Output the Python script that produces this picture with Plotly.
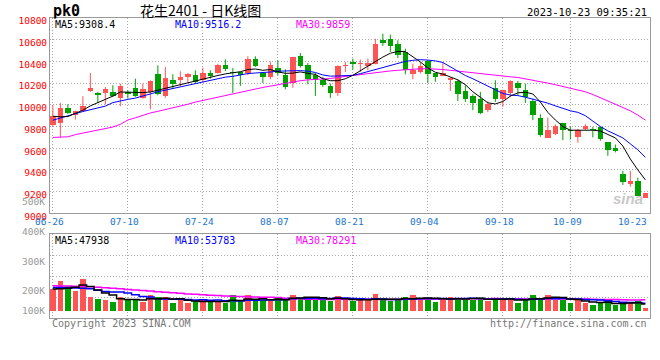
import plotly.graph_objects as go

# ---------------- data ----------------
dates = [
    "2023-06-26", "2023-06-27", "2023-06-28", "2023-06-29", "2023-06-30",
    "2023-07-03", "2023-07-04", "2023-07-05", "2023-07-06", "2023-07-07",
    "2023-07-10", "2023-07-11", "2023-07-12", "2023-07-13", "2023-07-14",
    "2023-07-17", "2023-07-18", "2023-07-19", "2023-07-20", "2023-07-21",
    "2023-07-24", "2023-07-25", "2023-07-26", "2023-07-27", "2023-07-28",
    "2023-07-31", "2023-08-01", "2023-08-02", "2023-08-03", "2023-08-04",
    "2023-08-07", "2023-08-08", "2023-08-09", "2023-08-10", "2023-08-11",
    "2023-08-14", "2023-08-15", "2023-08-16", "2023-08-17", "2023-08-18",
    "2023-08-21", "2023-08-22", "2023-08-23", "2023-08-24", "2023-08-25",
    "2023-08-28", "2023-08-29", "2023-08-30", "2023-08-31", "2023-09-01",
    "2023-09-04", "2023-09-05", "2023-09-06", "2023-09-07", "2023-09-08",
    "2023-09-11", "2023-09-12", "2023-09-13", "2023-09-14", "2023-09-15",
    "2023-09-18", "2023-09-19", "2023-09-20", "2023-09-21", "2023-09-22",
    "2023-09-25", "2023-09-26", "2023-09-27", "2023-09-28", "2023-10-09",
    "2023-10-10", "2023-10-11", "2023-10-12", "2023-10-13", "2023-10-16",
    "2023-10-17", "2023-10-18", "2023-10-19", "2023-10-20", "2023-10-23",
]

open_ = [
    9812, 9834, 9975, 9904, 9941, 10125, 10110, 10110, 10116, 10064,
    10119, 10156, 10064, 10119, 10284, 10082, 10226, 10226, 10260, 10272,
    10226, 10293, 10293, 10367, 10303, 10303, 10293, 10425, 10296, 10257,
    10343, 10278, 10201, 10447, 10364, 10278, 10232, 10174, 10110, 10355,
    10395, 10379, 10358, 10379, 10594, 10609, 10557, 10486, 10284, 10303,
    10401, 10293, 10269, 10226, 10217, 10125, 10079, 10051, 9950, 10156,
    10051, 10113, 10201, 10134, 10033, 9874, 9696, 9729, 9834, 9772,
    9705, 9778, 9775, 9791, 9653, 9604, 9362, 9270, 9297, 9144,
]
high = [
    9996, 10018, 10005, 9945, 10079, 10293, 10119, 10165, 10180, 10195,
    10134, 10241, 10195, 10225, 10364, 10349, 10281, 10309, 10293, 10318,
    10342, 10318, 10379, 10419, 10339, 10303, 10447, 10447, 10296, 10398,
    10410, 10327, 10437, 10477, 10385, 10293, 10257, 10195, 10364, 10395,
    10425, 10416, 10425, 10609, 10655, 10646, 10594, 10517, 10379, 10395,
    10410, 10293, 10385, 10251, 10232, 10180, 10097, 10119, 10033, 10226,
    10140, 10226, 10220, 10195, 10057, 9913, 9883, 9821, 9834, 9797,
    9778, 9821, 9797, 9791, 9653, 9634, 9392, 9392, 9328, 9184,
]
low = [
    9805, 9699, 9915, 9864, 9935, 10119, 10018, 10005, 10073, 9987,
    10057, 10073, 10057, 9959, 10088, 10064, 10150, 10171, 10205, 10201,
    10205, 10241, 10287, 10312, 10110, 10174, 10272, 10349, 10201, 10235,
    10272, 10143, 10156, 10343, 10189, 10082, 10165, 10064, 10082, 10303,
    10324, 10303, 10318, 10373, 10542, 10487, 10431, 10281, 10235, 10287,
    10201, 10211, 10263, 10128, 10033, 10027, 9950, 9913, 9932, 10027,
    9981, 10073, 10088, 10018, 9858, 9705, 9696, 9720, 9674, 9680,
    9650, 9766, 9699, 9668, 9530, 9561, 9261, 9245, 9162, 9144,
]
close = [
    9895, 9975, 9920, 9941, 9993, 10152, 10094, 10143, 10085, 10171,
    10103, 10082, 10143, 10220, 10103, 10247, 10192, 10254, 10284, 10211,
    10293, 10266, 10367, 10327, 10293, 10272, 10419, 10358, 10257, 10364,
    10293, 10165, 10437, 10355, 10235, 10226, 10186, 10110, 10355, 10367,
    10376, 10388, 10385, 10557, 10569, 10542, 10456, 10324, 10324, 10355,
    10281, 10257, 10293, 10251, 10103, 10051, 10018, 9926, 10005, 10051,
    10134, 10217, 10159, 10073, 9904, 9720, 9772, 9803, 9766, 9757,
    9772, 9803, 9766, 9684, 9582, 9576, 9291, 9300, 9162, 9184,
]

ma5 = [
    9895, 9889, 9892, 9920, 9950, 9990, 10018, 10050, 10080, 10118,
    10114, 10113, 10113, 10118, 10135, 10155, 10170, 10190, 10205, 10225,
    10238, 10255, 10270, 10285, 10295, 10305, 10325, 10330, 10318, 10325,
    10305, 10290, 10292, 10303, 10290, 10280, 10240, 10222, 10222, 10240,
    10272, 10315, 10350, 10395, 10440, 10475, 10492, 10490, 10445, 10395,
    10340, 10300, 10283, 10260, 10230, 10185, 10120, 10070, 10018, 10008,
    10030, 10080, 10110, 10116, 10100, 10025, 9930, 9860, 9800, 9766,
    9766, 9766, 9766, 9758, 9728, 9695, 9620, 9500, 9400, 9308.4,
]
ma10 = [
    9858, 9880, 9900, 9918, 9938, 9955, 9970, 9988, 10020, 10038,
    10050, 10062, 10078, 10100, 10120, 10135, 10145, 10160, 10175, 10190,
    10205, 10225, 10240, 10255, 10262, 10275, 10288, 10293, 10296, 10302,
    10310, 10312, 10314, 10315, 10310, 10298, 10275, 10264, 10266, 10270,
    10272, 10287, 10305, 10326, 10345, 10364, 10380, 10400, 10410, 10416,
    10412, 10405, 10390, 10350, 10310, 10270, 10240, 10205, 10170, 10135,
    10105, 10090, 10085, 10070, 10052, 10038, 10015, 9990, 9965, 9945,
    9930, 9900, 9850, 9800, 9760, 9730, 9695, 9640, 9585, 9516.2,
]
ma30 = [
    9699, 9699, 9705, 9725, 9738, 9750, 9765, 9780, 9795, 9820,
    9860, 9880, 9905, 9925, 9940, 9955, 9968, 9985, 10005, 10025,
    10040, 10060, 10075, 10090, 10105, 10118, 10132, 10145, 10160, 10172,
    10185, 10198, 10212, 10222, 10230, 10232, 10235, 10242, 10253, 10262,
    10272, 10280, 10288, 10296, 10304, 10312, 10318, 10324, 10328, 10332,
    10333, 10332, 10325, 10318, 10310, 10300, 10295, 10285, 10278, 10270,
    10265, 10258, 10252, 10240, 10228, 10218, 10200, 10185, 10168, 10150,
    10135, 10120, 10095, 10065, 10040, 10010, 9980, 9945, 9905, 9859,
]

volume = [
    154700, 214200, 178500, 142800, 228500, 100000, 85700, 78500, 64300, 95200,
    73800, 85700, 61900, 109500, 95200, 95200, 57100, 73800, 52400, 66600,
    78500, 61900, 71400, 52400, 109500, 71400, 109500, 66600, 73800, 66600,
    95200, 92800, 114200, 85700, 92800, 95200, 78500, 71400, 107100, 73800,
    66600, 73800, 73800, 121400, 73800, 69000, 73800, 100000, 114200, 83300,
    83300, 64300, 85700, 100000, 92800, 78500, 78500, 92800, 66600, 92800,
    78500, 85700, 57100, 78500, 114200, 92800, 114200, 78500, 73800, 57100,
    78500, 57100, 42800, 57100, 66600, 38100, 57100, 57100, 66600, 21400,
]
vol_ma5 = [
    154700, 156000, 160000, 168000, 183700, 172800, 147100, 127100, 111400, 84700,
    79500, 79500, 76200, 85200, 85200, 89500, 83800, 86200, 74700, 69000,
    65700, 66600, 66200, 66200, 74700, 73300, 82800, 81900, 86200, 77600,
    82300, 79000, 88500, 90900, 96100, 96100, 93300, 84700, 89000, 85200,
    79500, 78500, 79000, 81900, 81900, 82400, 82400, 87600, 86200, 88100,
    90900, 89000, 86200, 83300, 85200, 84300, 87100, 88500, 81800, 81800,
    81800, 83300, 76100, 78500, 82800, 85700, 91400, 95600, 94700, 83300,
    80400, 69000, 61900, 58500, 60400, 52300, 52300, 55200, 57100, 47938,
]
vol_ma10 = [
    166000, 165000, 164000, 162000, 160000, 157000, 146000, 138000, 134000, 134200,
    126200, 113300, 101600, 98300, 85000, 84500, 81600, 81200, 80000, 77100,
    77600, 75200, 76200, 70500, 71900, 69500, 74700, 74000, 76200, 76200,
    77800, 80900, 85200, 88500, 86900, 89200, 86100, 86600, 90000, 90700,
    87800, 85900, 81900, 85400, 83500, 80900, 80500, 83300, 84000, 85000,
    86600, 85700, 86900, 84700, 86600, 87600, 88100, 87300, 82600, 83500,
    83100, 85200, 82300, 80200, 82300, 83800, 87300, 85900, 86600, 83000,
    83000, 80200, 78800, 76600, 71900, 66400, 60700, 58500, 57800, 53783,
]
vol_ma30 = [
    178000, 177000, 176000, 175000, 174000, 171000, 168000, 164000, 160000, 156000,
    152000, 148000, 144000, 140000, 136000, 132000, 128000, 124000, 120000, 117000,
    114000, 111000, 108000, 105000, 103000, 101000, 99500, 98000, 97000, 95800,
    93900, 89800, 87700, 85800, 81200, 81100, 80800, 80600, 82000, 81300,
    81100, 80700, 81100, 81500, 80800, 79900, 80400, 81300, 83400, 83900,
    84100, 84200, 84700, 86200, 85700, 85900, 84900, 85800, 85500, 86400,
    85800, 85600, 83700, 83500, 84200, 84100, 85300, 85500, 84400, 83800,
    84200, 83700, 82700, 80500, 80300, 79200, 78700, 77300, 75700, 78291,
]

label_dates = ["06-26", "07-10", "07-24", "08-07", "08-21", "09-04", "09-18", "10-09", "10-23"]
price_ticks = [9000, 9200, 9400, 9600, 9800, 10000, 10200, 10400, 10600, 10800]
vol_label_text = ["500K", "400K", "300K", "200K", "100K"]

# ---------------- style / geometry ----------------
W, H = 660, 360
L, R, T, B = 50, 650, 18, 318           # plot area in pixels
MAIN_BOTTOM, VOL_TOP = 213.3, 234
RED, GREEN = "#FF5454", "#00A000"
GRID = "#A8A8A8"
AXIS = "#9A9A9A"
MONO = "DejaVu Sans Mono"
XLAB = "#1A74D0"
SMALL = 9.5


def px(x):
    return (x - L) / (R - L)


def py(y):
    return (B - y) / (B - T)


idx = list(range(len(dates)))
md = [d[5:] for d in dates]
up = [i for i in idx if close[i] >= open_[i]]
dn = [i for i in idx if close[i] < open_[i]]

fig = go.Figure()


def wick_xy(ids):
    xs, ys = [], []
    for i in ids:
        xs += [i, i, None]
        ys += [low[i], high[i], None]
    return xs, ys


for ids, col in ((up, RED), (dn, GREEN)):
    xs, ys = wick_xy(ids)
    fig.add_trace(go.Scatter(x=xs, y=ys, mode="lines", line=dict(color=col, width=1),
                             xaxis="x", yaxis="y", hoverinfo="skip"))
    fig.add_trace(go.Bar(x=ids, y=[abs(close[i] - open_[i]) for i in ids],
                         base=[min(open_[i], close[i]) for i in ids],
                         width=0.76, marker=dict(color=col, line=dict(width=0)),
                         xaxis="x", yaxis="y"))

for ser, col in ((ma30, "#FF00FF"), (ma10, "#0000FF"), (ma5, "#000000")):
    fig.add_trace(go.Scatter(x=idx, y=ser, mode="lines", line=dict(color=col, width=1),
                             xaxis="x", yaxis="y"))

vcol = [RED if close[i] >= open_[i] else GREEN for i in idx]
fig.add_trace(go.Bar(x=idx, y=volume, width=0.76, marker=dict(color=vcol, line=dict(width=0)),
                     xaxis="x2", yaxis="y2"))
for ser, col in ((vol_ma30, "#FF00FF"), (vol_ma10, "#0000FF"), (vol_ma5, "#000000")):
    fig.add_trace(go.Scatter(x=idx, y=ser, mode="lines", line=dict(color=col, width=1.5, shape="hvh"),
                             xaxis="x2", yaxis="y2"))

xr = [(L - 52.85) / 7.5, (R - 52.85) / 7.5]
tickpos = [md.index(d) for d in label_dates]

common_x = dict(range=xr, showgrid=True, gridcolor=GRID, griddash="1px,2px", gridwidth=1,
                showline=True, linecolor=AXIS, linewidth=1, mirror=True, ticks="",
                zeroline=False, tickvals=tickpos[:-1], showticklabels=False, fixedrange=True)

fig.update_layout(
    width=W, height=H, margin=dict(l=L, r=W - R, t=T, b=H - B),
    paper_bgcolor="white", plot_bgcolor="white", showlegend=False,
    barmode="overlay", bargap=0, hovermode=False,
    xaxis=dict(common_x, anchor="y"),
    xaxis2=dict(common_x, anchor="y2", matches="x"),
    yaxis=dict(domain=[py(MAIN_BOTTOM), 1], range=[9000, 10800], tickvals=price_ticks,
               tickformat="d", showgrid=True, gridcolor=GRID, griddash="1px,2px", zeroline=False,
               showline=True, linecolor=AXIS, mirror=True, ticks="", fixedrange=True,
               tickfont=dict(family=MONO, size=SMALL, color="#FF0000"), ticklabelshift=3),
    yaxis2=dict(domain=[0, py(VOL_TOP)], range=[-52000, 547600], tick0=-52000, dtick=149900,
                showgrid=True, gridcolor=GRID, griddash="1px,2px", zeroline=False, fixedrange=True,
                showline=True, linecolor=AXIS, mirror=True, ticks="", showticklabels=False),
)

ann = []


def text(x, y, s, color="#000000", size=10, anchor="left", family=MONO, bg=None, xref="paper", **kw):
    d = dict(x=px(x) if xref == "paper" else x, y=py(y), xref=xref, yref="paper", text=s,
             showarrow=False, xanchor=anchor, yanchor="middle",
             font=dict(family=family, size=size, color=color))
    if bg:
        d.update(bgcolor=bg, borderpad=0)
    d.update(kw)
    ann.append(d)


text(51, 11, "<b>pk0</b>", size=15)
text(200, 10, "花生2401 - 日K线图", size=14, anchor="center", family="Noto Sans CJK SC")
text(649, 12, "2023-10-23 09:35:21", size=10.5, anchor="right")

text(54, 24, f"MA5:{ma5[-1]}", "#000000", bg="white")
text(174, 24, f"MA10:{ma10[-1]}", "#0000FF", bg="white")
text(295, 24, f"MA30:{ma30[-1]}", "#FF00FF", bg="white")

text(54, 240, f"MA5:{vol_ma5[-1]}", "#000000", bg="white")
text(174, 240, f"MA10:{vol_ma10[-1]}", "#0000FF", bg="white")
text(295, 240, f"MA30:{vol_ma30[-1]}", "#FF00FF", bg="white")

for s, y in zip(vol_label_text, [201, 231.5, 261, 290, 310]):
    text(47, y, s, "#999999", size=SMALL, anchor="right")

# date labels along the main x axis (last one right-aligned at the border)
for pos, lab in zip(tickpos[:-1], label_dates[:-1]):
    text(pos, 221.5, lab, XLAB, size=SMALL, anchor="center", xref="x", xshift=-3)
text(649, 221.5, label_dates[-1], XLAB, size=SMALL, anchor="right")

text(50, 323, "Copyright 2023 SINA.COM", "#777777", size=10)
text(649, 323, "http://finance.sina.com.cn", "#777777", size=10, anchor="right")
text(628, 199, "<b><i>sina</i></b>", "#C8C8C8", size=15, anchor="center", family="Liberation Sans")

fig.update_layout(annotations=ann)
fig.write_html("out.html", config={"displayModeBar": False, "staticPlot": True},
               post_script="document.body.style.margin='0';document.body.style.padding='0';")
